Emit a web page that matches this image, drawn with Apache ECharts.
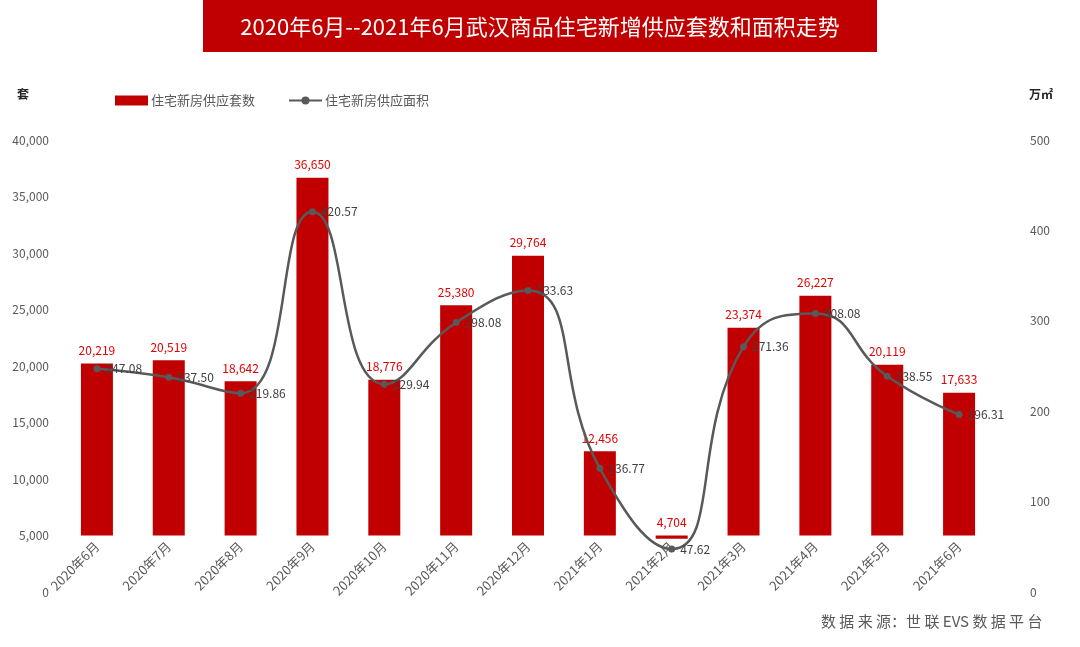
<!DOCTYPE html>
<html><head><meta charset="utf-8">
<script src="https://cdn.jsdelivr.net/npm/echarts@6/dist/echarts.min.js"></script>
<style>html,body{margin:0;padding:0;background:#fff}#c{width:1080px;height:647px}</style>
</head><body><div id="c"></div>
<script>
var categories = ['2020年6月','2020年7月','2020年8月','2020年9月','2020年10月','2020年11月','2020年12月','2021年1月','2021年2月','2021年3月','2021年4月','2021年5月','2021年6月'];
var supplyUnits = [20219,20519,18642,36650,18776,25380,29764,12456,4704,23374,26227,20119,17633];
var supplyArea = [247.08,237.50,219.86,420.57,229.94,298.08,333.63,136.77,47.62,271.36,308.08,238.55,196.31];
var leftTicks = {min:0, max:40000, interval:5000};
var rightTicks = {min:0, max:500, interval:100};
var barBase = 5000;

var baseData = categories.map(function(){return barBase;});
var diffData = supplyUnits.map(function(v){return v - barBase;});
function fmt(n){return n.toString().replace(/\B(?=(\d{3})+(?!\d))/g, ',');}

var chart = echarts.init(document.getElementById('c'), null, {renderer:'canvas'});
var font = '"Noto Sans CJK SC",sans-serif';
chart.setOption({
  animation:false,
  textStyle:{fontFamily:font},
  graphic:[
    {type:'rect', shape:{x:203,y:0,width:674,height:52}, style:{fill:'#c00000'}},
    {type:'text', x:540, y:27, style:{text:'2020年6月--2021年6月武汉商品住宅新增供应套数和面积走势', fill:'#fff', font:'22px "Noto Sans CJK SC",sans-serif', align:'center', verticalAlign:'middle'}},
    {type:'text', left:17, top:88, style:{text:'套', fill:'#262626', font:'bold 12px "Noto Sans CJK SC",sans-serif'}},
    {type:'text', left:1029, top:88, style:{text:'万㎡', fill:'#262626', font:'bold 12px "Noto Sans CJK SC",sans-serif'}},
    {type:'text', left:821, top:614, style:{text:'数 据 来 源：世 联 EVS 数 据 平 台', fill:'#595959', font:'15px "Noto Sans CJK SC",sans-serif'}}
  ],
  legend:{
    top:89, left:110, itemGap:33, itemWidth:33, itemHeight:10,
    textStyle:{color:'#595959', fontSize:13, fontFamily:font, padding:[0,0,0,-2]},
    data:[{name:'住宅新房供应套数', icon:'rect'},{name:'住宅新房供应面积'}]
  },
  grid:{left:61, right:85, top:140, bottom:55},
  xAxis:{
    type:'category', data:categories, offset:-56,
    axisLine:{show:false}, axisTick:{show:false},
    axisLabel:{rotate:45, color:'#595959', fontSize:13, margin:8, interval:0}
  },
  yAxis:[
    {type:'value', min:leftTicks.min, max:leftTicks.max, interval:leftTicks.interval,
     splitLine:{show:false}, axisLine:{show:false}, axisTick:{show:false},
     axisLabel:{color:'#595959', fontSize:12, margin:12, formatter:function(v){return fmt(v);}}},
    {type:'value', min:rightTicks.min, max:rightTicks.max, interval:rightTicks.interval,
     splitLine:{show:false}, axisLine:{show:false}, axisTick:{show:false},
     axisLabel:{color:'#595959', fontSize:12, margin:35}}
  ],
  series:[
    {name:'base', type:'bar', stack:'u', stackStrategy:'all', data:baseData, barWidth:32,
     itemStyle:{color:'rgba(0,0,0,0)'}, silent:true, legendHoverLink:false},
    {name:'住宅新房供应套数', type:'bar', stack:'u', stackStrategy:'all', data:diffData, barWidth:32,
     itemStyle:{color:'#c00000'},
     label:{show:true, position:'top', color:'#e00000', fontSize:12, distance:7,
       formatter:function(p){return fmt(supplyUnits[p.dataIndex]);}}},
    {name:'住宅新房供应面积', type:'line', yAxisIndex:1, data:supplyArea, smooth:0.5,
     symbol:'circle', symbolSize:7, z:5,
     lineStyle:{color:'#595959', width:2.5}, itemStyle:{color:'#595959'},
     label:{show:true, position:'right', distance:5, color:'#404040', fontSize:12,
       formatter:function(p){return p.value.toFixed(2);}}}
  ]
});
</script></body></html>
